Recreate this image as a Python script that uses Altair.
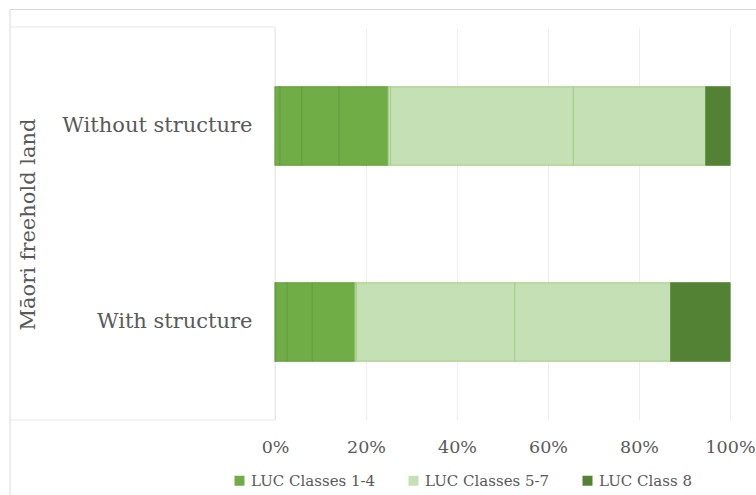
import altair as alt
import pandas as pd

categories = ["Without structure", "With structure"]
luc_classes = ["Class 1", "Class 2", "Class 3", "Class 4", "Class 5", "Class 6", "Class 7", "Class 8"]
class_groups = ["LUC Classes 1-4"] * 4 + ["LUC Classes 5-7"] * 3 + ["LUC Class 8"]
without_structure = [1.1, 4.8, 8.2, 10.8, 0.5, 40.2, 29.1, 5.3]
with_structure = [0.2, 2.5, 5.5, 9.4, 0.3, 34.8, 34.3, 13.0]
x_ticks = [0, 20, 40, 60, 80, 100]

group_names = ["LUC Classes 1-4", "LUC Classes 5-7", "LUC Class 8"]
fill_colors = ["#70ad47", "#c5e0b4", "#548235"]
stroke_colors = ["#66a13f", "#a9d18e", "#548235"]

rows = []
for cat, vals in zip(categories, [without_structure, with_structure]):
    for i, (cls, grp, v) in enumerate(zip(luc_classes, class_groups, vals)):
        rows.append({"category": cat, "cls": cls, "order": i, "group": grp, "value": v})
df = pd.DataFrame(rows)

FONT = "DejaVu Serif"
TXT = "#595959"

bars = alt.Chart(df).mark_bar(strokeWidth=1.2).encode(
    y=alt.Y("category:N", sort=categories,
            scale=alt.Scale(paddingInner=0.6, paddingOuter=0.3),
            axis=alt.Axis(title="Māori freehold land", titleFont=FONT, titleFontSize=21,
                          titleFontWeight="normal", titleColor=TXT, titleAngle=270,
                          titleX=-247, titleY=196, titleAlign="center", titleBaseline="middle",
                          labelFont=FONT, labelFontSize=21, labelColor=TXT, labelPadding=23,
                          labelLimit=0, ticks=False, domain=False, grid=False)),
    x=alt.X("value:Q", stack="zero",
            scale=alt.Scale(domain=[0, 100], nice=False),
            axis=alt.Axis(title=None, values=x_ticks, labelExpr="datum.value + '%'",
                          labelFont=FONT, labelFontSize=17.5, labelColor=TXT, labelPadding=18,
                          ticks=False, domain=False, grid=True, gridColor="#eeeeee",
                          labelFlush=False, labelLimit=0)),
    color=alt.Color("group:N", scale=alt.Scale(domain=group_names, range=fill_colors),
                    legend=alt.Legend(title=None, orient="none", direction="horizontal",
                                      legendX=-43, legendY=445, padding=0,
                                      symbolType="square", symbolSize=100, symbolStrokeWidth=0,
                                      labelFont=FONT, labelFontSize=15, labelColor=TXT,
                                      labelOffset=4, columnPadding=30, labelLimit=0)),
    stroke=alt.Stroke("group:N", scale=alt.Scale(domain=group_names, range=stroke_colors),
                      legend=None),
    order=alt.Order("order:Q"),
    detail="cls:N",
)

one = pd.DataFrame({"a": [0]})
frame_top = alt.Chart(one).mark_rule(color="#d9d9d9", strokeWidth=1).encode(
    x=alt.value(-265), x2=alt.value(481), y=alt.value(-18.5))
frame_left = alt.Chart(one).mark_rule(color="#d9d9d9", strokeWidth=1).encode(
    x=alt.value(-265), y=alt.value(-18.5), y2=alt.value(470))
box_top = alt.Chart(one).mark_rule(color="#e6e6e6", strokeWidth=1).encode(
    x=alt.value(-265), x2=alt.value(0), y=alt.value(-1))
box_bottom = alt.Chart(one).mark_rule(color="#e6e6e6", strokeWidth=1).encode(
    x=alt.value(-265), x2=alt.value(0), y=alt.value(392))
box_right = alt.Chart(one).mark_rule(color="#e6e6e6", strokeWidth=1).encode(
    x=alt.value(0), y=alt.value(-1), y2=alt.value(392))

chart = alt.layer(frame_top, frame_left, box_top, box_bottom, box_right, bars).properties(
    width=455, height=392,
    padding={"left": 275, "top": 28, "right": 26, "bottom": 75},
    autosize=alt.AutoSizeParams(type="none"),
    background="white",
).configure_view(stroke=None)

chart.save("out.html", embed_options={"renderer": "svg", "actions": False})
